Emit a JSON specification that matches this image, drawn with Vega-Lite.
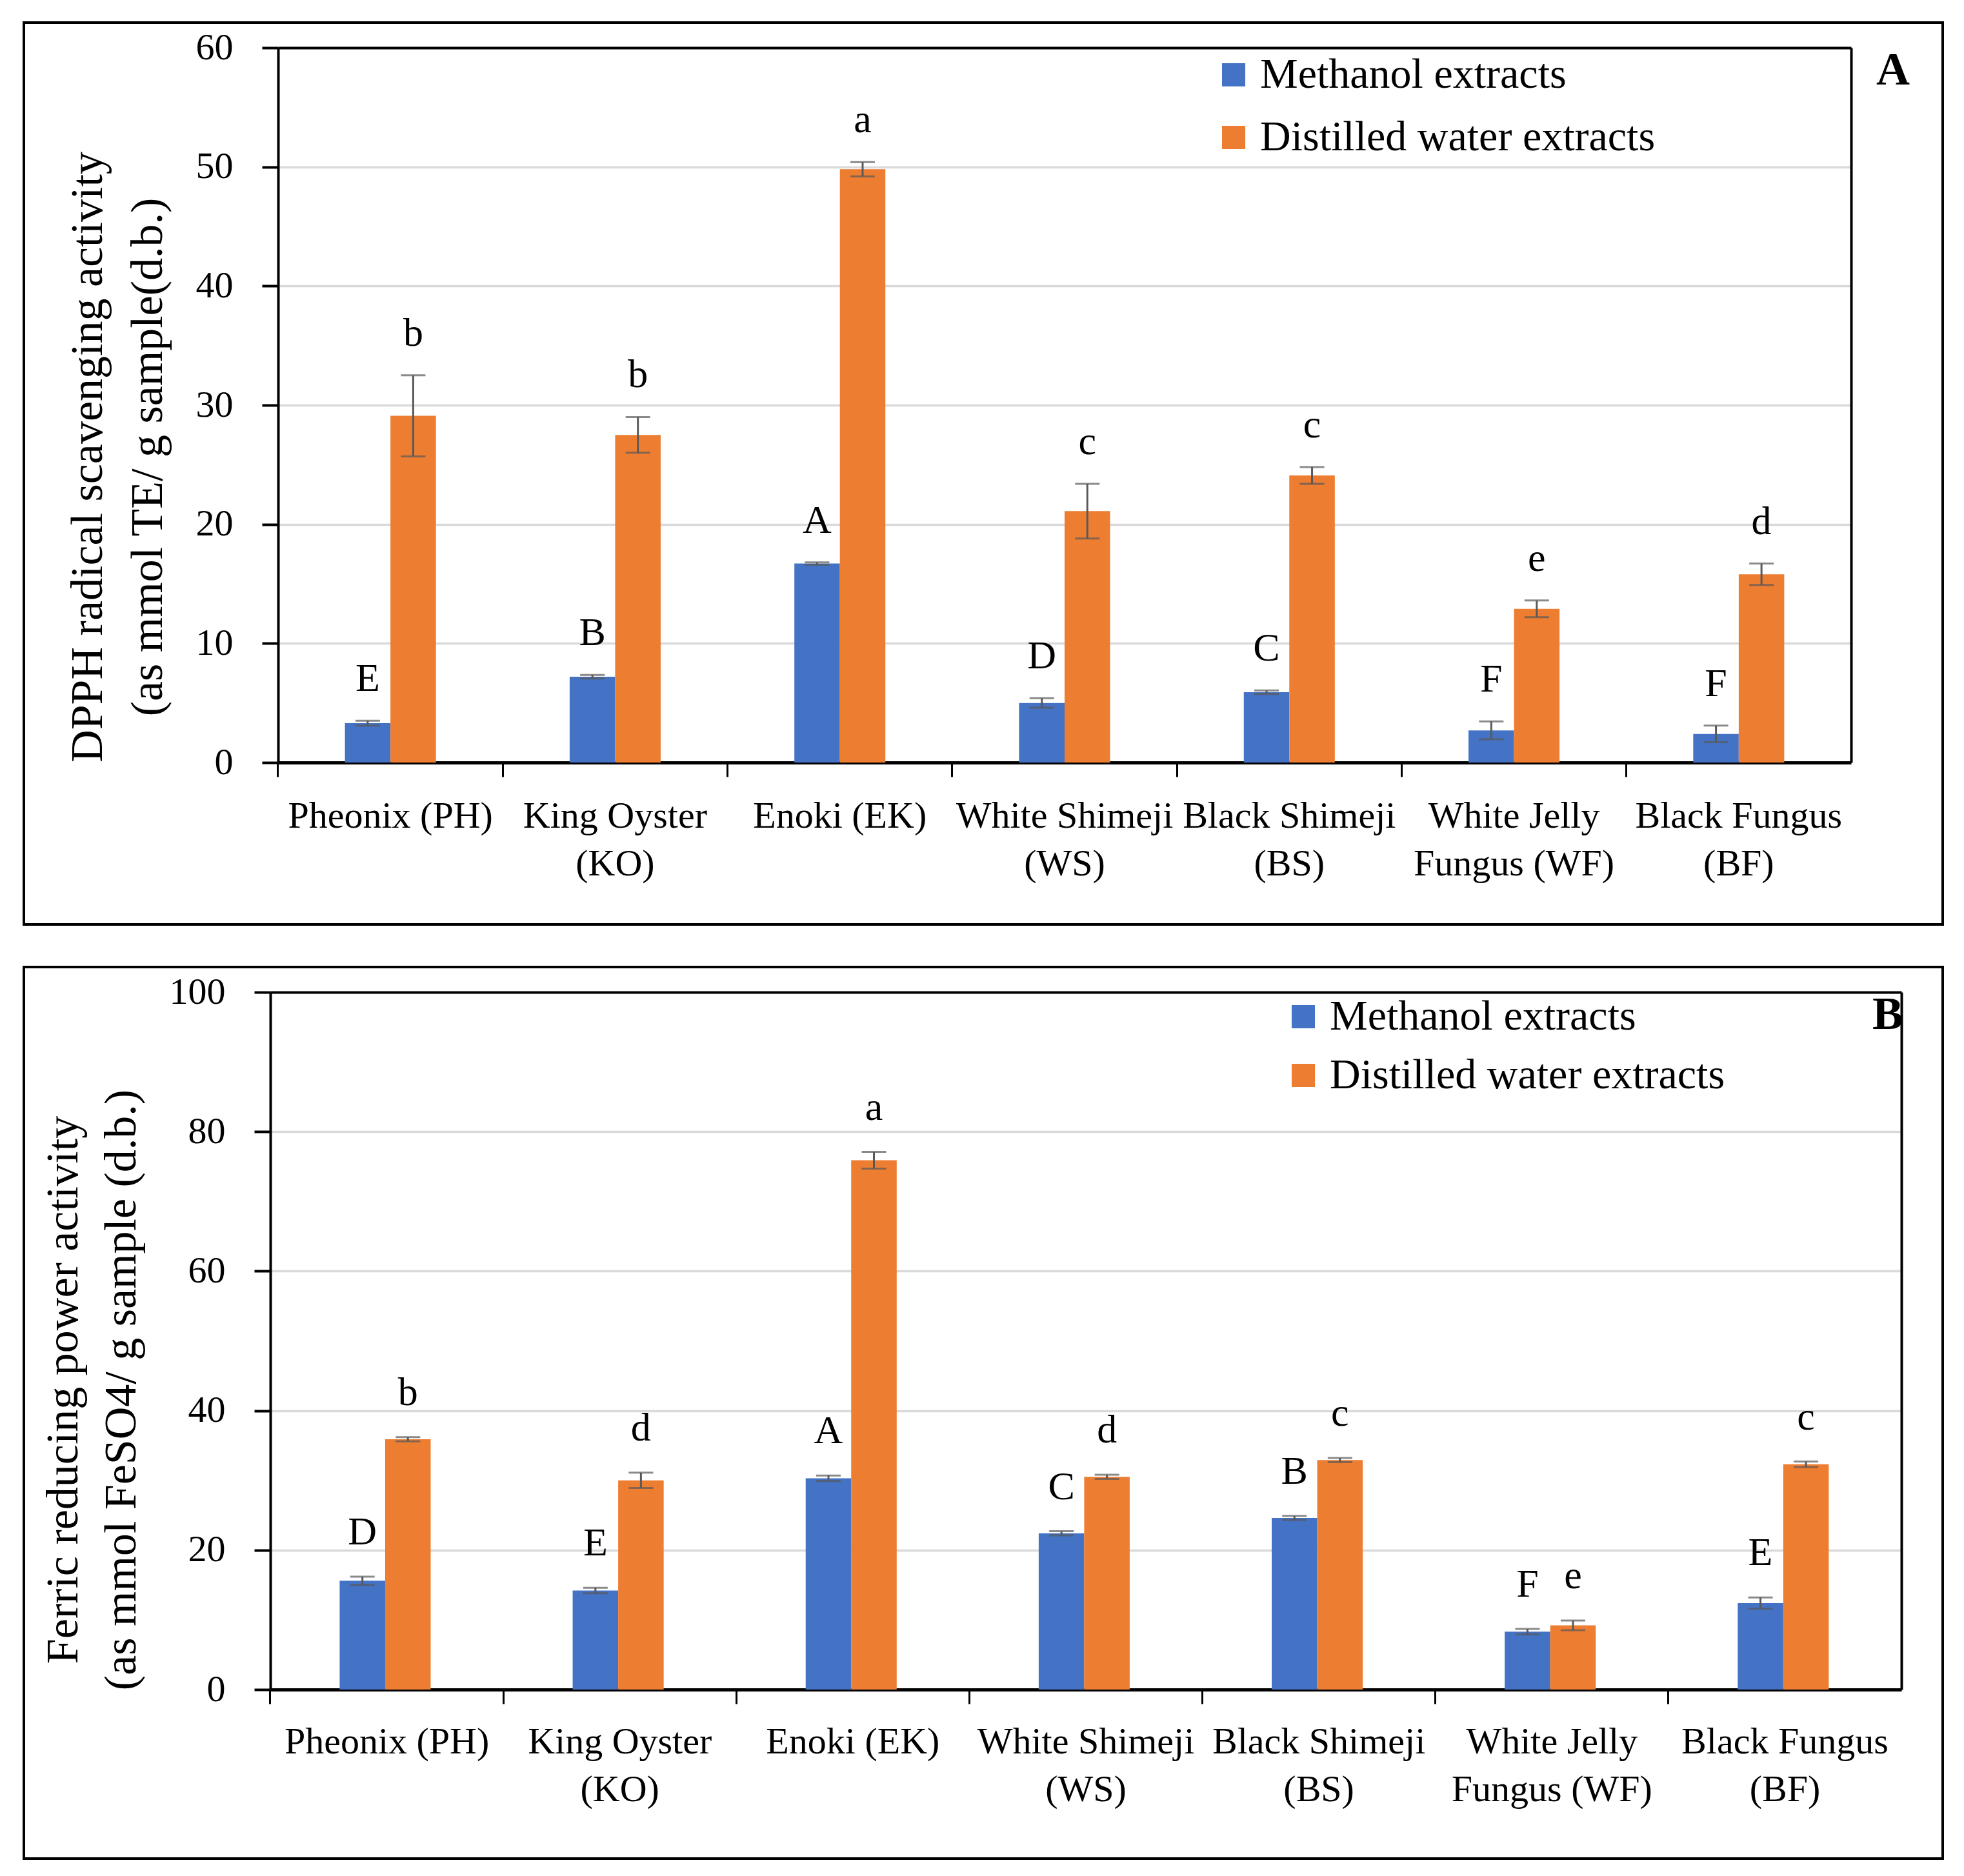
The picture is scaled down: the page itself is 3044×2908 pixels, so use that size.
{
  "$schema": "https://vega.github.io/schema/vega-lite/v6.json",
  "background": "white",
  "padding": {"left": 35, "top": 33, "right": 0, "bottom": 0},
  "autosize": {"type": "pad"},
  "spacing": 62,
  "config": {
    "font": "Liberation Serif",
    "view": {"stroke": "black", "strokeWidth": 4},
    "axis": {"labelFont": "Liberation Serif", "titleFont": "Liberation Serif", "labelColor": "black", "titleColor": "black", "titleFontWeight": "normal", "domainColor": "black", "tickColor": "black"},
    "legend": {"labelFont": "Liberation Serif", "labelColor": "black"},
    "title": {"font": "Liberation Serif", "color": "black"}
  },
  "resolve": {"scale": {"color": "independent", "x": "independent", "y": "independent"}, "legend": {"color": "independent"}},
  "vconcat": [
    {
      "width": 2974,
      "height": 1398,
      "title": {"text": "A", "orient": "top", "anchor": "end", "frame": "group", "offset": -111, "dx": -51, "fontSize": 72, "fontWeight": "bold"},
      "data": {"values": [
        {"cat": "Pheonix (PH)", "series": "Methanol extracts", "value": 3.3, "lo": 3.1, "hi": 3.5, "letter": "E"},
        {"cat": "Pheonix (PH)", "series": "Distilled water extracts", "value": 29.1, "lo": 25.7, "hi": 32.5, "letter": "b"},
        {"cat": "King Oyster (KO)", "series": "Methanol extracts", "value": 7.2, "lo": 7.05, "hi": 7.35, "letter": "B"},
        {"cat": "King Oyster (KO)", "series": "Distilled water extracts", "value": 27.5, "lo": 26.0, "hi": 29.0, "letter": "b"},
        {"cat": "Enoki (EK)", "series": "Methanol extracts", "value": 16.7, "lo": 16.6, "hi": 16.8, "letter": "A"},
        {"cat": "Enoki (EK)", "series": "Distilled water extracts", "value": 49.8, "lo": 49.2, "hi": 50.4, "letter": "a"},
        {"cat": "White Shimeji (WS)", "series": "Methanol extracts", "value": 5.0, "lo": 4.6, "hi": 5.4, "letter": "D"},
        {"cat": "White Shimeji (WS)", "series": "Distilled water extracts", "value": 21.1, "lo": 18.8, "hi": 23.4, "letter": "c"},
        {"cat": "Black Shimeji (BS)", "series": "Methanol extracts", "value": 5.9, "lo": 5.75, "hi": 6.05, "letter": "C"},
        {"cat": "Black Shimeji (BS)", "series": "Distilled water extracts", "value": 24.1, "lo": 23.4, "hi": 24.8, "letter": "c"},
        {"cat": "White Jelly Fungus (WF)", "series": "Methanol extracts", "value": 2.7, "lo": 1.95, "hi": 3.45, "letter": "F"},
        {"cat": "White Jelly Fungus (WF)", "series": "Distilled water extracts", "value": 12.9, "lo": 12.2, "hi": 13.6, "letter": "e"},
        {"cat": "Black Fungus (BF)", "series": "Methanol extracts", "value": 2.4, "lo": 1.7, "hi": 3.1, "letter": "F"},
        {"cat": "Black Fungus (BF)", "series": "Distilled water extracts", "value": 15.8, "lo": 14.9, "hi": 16.7, "letter": "d"}
      ]},
      "encoding": {
        "x": {"field": "cat", "type": "nominal", "sort": ["Pheonix (PH)", "King Oyster (KO)", "Enoki (EK)", "White Shimeji (WS)", "Black Shimeji (BS)", "White Jelly Fungus (WF)", "Black Fungus (BF)"], "scale": {"range": [394, 2832], "paddingInner": 0.595, "paddingOuter": 0.2975}},
        "xOffset": {"field": "series", "type": "nominal", "sort": ["Methanol extracts", "Distilled water extracts"], "scale": {"paddingInner": 0, "paddingOuter": 0}}
      },
      "layer": [
        {
          "mark": {"type": "bar"},
          "encoding": {
            "x": {"field": "cat", "type": "nominal", "sort": ["Pheonix (PH)", "King Oyster (KO)", "Enoki (EK)", "White Shimeji (WS)", "Black Shimeji (BS)", "White Jelly Fungus (WF)", "Black Fungus (BF)"], "axis": {"orient": "bottom", "offset": -251, "title": null, "bandPosition": -0.7346, "domainWidth": 5, "tickWidth": 3, "tickSize": 22, "labelFontSize": 58, "labelPadding": 32, "labelLineHeight": 74, "labelAngle": 0, "labelLimit": 1000, "grid": false, "labelExpr": "datum.label == 'King Oyster (KO)' ? ['King Oyster', '(KO)'] : datum.label == 'White Shimeji (WS)' ? ['White Shimeji', '(WS)'] : datum.label == 'Black Shimeji (BS)' ? ['Black Shimeji', '(BS)'] : datum.label == 'White Jelly Fungus (WF)' ? ['White Jelly', 'Fungus (WF)'] : datum.label == 'Black Fungus (BF)' ? ['Black Fungus', '(BF)'] : datum.label"}},
            "y": {"field": "value", "type": "quantitative", "scale": {"domain": [0, 60], "range": [1147, 39], "nice": false}, "axis": {"orient": "left", "offset": -394, "values": [0, 10, 20, 30, 40, 50, 60], "title": ["DPPH radical scavenging activity", "(as mmol TE/ g sample(d.b.)"], "titleFontSize": 70, "titleLineHeight": 93, "titlePadding": 38, "titleY": 673, "labelFontSize": 58, "labelPadding": 45, "tickSize": 25, "tickWidth": 4, "domainWidth": 4, "grid": true, "gridColor": "#d9d9d9", "gridWidth": 3.5}},
            "color": {"field": "series", "type": "nominal", "scale": {"domain": ["Methanol extracts", "Distilled water extracts"], "range": ["#4472C4", "#ED7D31"]}, "legend": {"orient": "none", "legendX": 1842, "legendY": 48, "title": null, "symbolType": "square", "symbolSize": 1300, "symbolStrokeWidth": 0, "labelFontSize": 66, "labelOffset": 8, "rowPadding": 31, "padding": 0, "labelLimit": 1200}}
          }
        },
        {
          "mark": {"type": "rule", "color": "#595959", "strokeWidth": 3},
          "encoding": {
            "x": {"field": "cat", "type": "nominal", "axis": null},
            "y": {"field": "lo", "type": "quantitative", "axis": null},
            "y2": {"field": "hi"}
          }
        },
        {
          "mark": {"type": "tick", "color": "#595959", "thickness": 3, "size": 38},
          "encoding": {
            "x": {"field": "cat", "type": "nominal", "axis": null},
            "y": {"field": "lo", "type": "quantitative", "axis": null}
          }
        },
        {
          "mark": {"type": "tick", "color": "#595959", "thickness": 3, "size": 38},
          "encoding": {
            "x": {"field": "cat", "type": "nominal", "axis": null},
            "y": {"field": "hi", "type": "quantitative", "axis": null}
          }
        },
        {
          "mark": {"type": "text", "fontSize": 62, "baseline": "alphabetic", "dy": -46, "color": "black"},
          "encoding": {
            "x": {"field": "cat", "type": "nominal", "axis": {"orient": "top", "offset": -39, "title": null, "labels": false, "ticks": false, "grid": false, "domainWidth": 4}},
            "y": {"field": "hi", "type": "quantitative", "axis": {"orient": "right", "offset": -142, "title": null, "labels": false, "ticks": false, "grid": false, "domainWidth": 4}},
            "text": {"field": "letter"}
          }
        }
      ],
      "resolve": {"axis": {"x": "independent", "y": "independent"}}
    },
    {
      "width": 2974,
      "height": 1382,
      "title": {"text": "B", "orient": "top", "anchor": "end", "frame": "group", "offset": -111, "dx": -61, "fontSize": 72, "fontWeight": "bold"},
      "data": {"values": [
        {"cat": "Pheonix (PH)", "series": "Methanol extracts", "value": 15.6, "lo": 15.0, "hi": 16.2, "letter": "D"},
        {"cat": "Pheonix (PH)", "series": "Distilled water extracts", "value": 35.9, "lo": 35.6, "hi": 36.2, "letter": "b"},
        {"cat": "King Oyster (KO)", "series": "Methanol extracts", "value": 14.2, "lo": 13.8, "hi": 14.6, "letter": "E"},
        {"cat": "King Oyster (KO)", "series": "Distilled water extracts", "value": 30.0, "lo": 28.9, "hi": 31.1, "letter": "d"},
        {"cat": "Enoki (EK)", "series": "Methanol extracts", "value": 30.3, "lo": 29.9, "hi": 30.7, "letter": "A"},
        {"cat": "Enoki (EK)", "series": "Distilled water extracts", "value": 75.9, "lo": 74.7, "hi": 77.1, "letter": "a"},
        {"cat": "White Shimeji (WS)", "series": "Methanol extracts", "value": 22.4, "lo": 22.1, "hi": 22.7, "letter": "C"},
        {"cat": "White Shimeji (WS)", "series": "Distilled water extracts", "value": 30.5, "lo": 30.2, "hi": 30.8, "letter": "d"},
        {"cat": "Black Shimeji (BS)", "series": "Methanol extracts", "value": 24.6, "lo": 24.3, "hi": 24.9, "letter": "B"},
        {"cat": "Black Shimeji (BS)", "series": "Distilled water extracts", "value": 32.9, "lo": 32.6, "hi": 33.2, "letter": "c"},
        {"cat": "White Jelly Fungus (WF)", "series": "Methanol extracts", "value": 8.3, "lo": 7.9, "hi": 8.7, "letter": "F"},
        {"cat": "White Jelly Fungus (WF)", "series": "Distilled water extracts", "value": 9.2, "lo": 8.5, "hi": 9.9, "letter": "e"},
        {"cat": "Black Fungus (BF)", "series": "Methanol extracts", "value": 12.4, "lo": 11.6, "hi": 13.2, "letter": "E"},
        {"cat": "Black Fungus (BF)", "series": "Distilled water extracts", "value": 32.3, "lo": 31.9, "hi": 32.7, "letter": "c"}
      ]},
      "encoding": {
        "x": {"field": "cat", "type": "nominal", "sort": ["Pheonix (PH)", "King Oyster (KO)", "Enoki (EK)", "White Shimeji (WS)", "Black Shimeji (BS)", "White Jelly Fungus (WF)", "Black Fungus (BF)"], "scale": {"range": [382, 2910], "paddingInner": 0.595, "paddingOuter": 0.2975}},
        "xOffset": {"field": "series", "type": "nominal", "sort": ["Methanol extracts", "Distilled water extracts"], "scale": {"paddingInner": 0, "paddingOuter": 0}}
      },
      "layer": [
        {
          "mark": {"type": "bar"},
          "encoding": {
            "x": {"field": "cat", "type": "nominal", "sort": ["Pheonix (PH)", "King Oyster (KO)", "Enoki (EK)", "White Shimeji (WS)", "Black Shimeji (BS)", "White Jelly Fungus (WF)", "Black Fungus (BF)"], "axis": {"orient": "bottom", "offset": -262, "title": null, "bandPosition": -0.7346, "domainWidth": 5, "tickWidth": 3, "tickSize": 22, "labelFontSize": 58, "labelPadding": 30, "labelLineHeight": 74, "labelAngle": 0, "labelLimit": 1000, "grid": false, "labelExpr": "datum.label == 'King Oyster (KO)' ? ['King Oyster', '(KO)'] : datum.label == 'White Shimeji (WS)' ? ['White Shimeji', '(WS)'] : datum.label == 'Black Shimeji (BS)' ? ['Black Shimeji', '(BS)'] : datum.label == 'White Jelly Fungus (WF)' ? ['White Jelly', 'Fungus (WF)'] : datum.label == 'Black Fungus (BF)' ? ['Black Fungus', '(BF)'] : datum.label"}},
            "y": {"field": "value", "type": "quantitative", "scale": {"domain": [0, 100], "range": [1120, 39], "nice": false}, "axis": {"orient": "left", "offset": -382, "values": [0, 20, 40, 60, 80, 100], "title": ["Ferric reducing power activity", "(as mmol FeSO4/ g sample (d.b.)"], "titleFontSize": 70, "titleLineHeight": 90, "titlePadding": 38, "titleY": 655, "labelFontSize": 58, "labelPadding": 45, "tickSize": 25, "tickWidth": 4, "domainWidth": 4, "grid": true, "gridColor": "#d9d9d9", "gridWidth": 3.5}},
            "color": {"field": "series", "type": "nominal", "scale": {"domain": ["Methanol extracts", "Distilled water extracts"], "range": ["#4472C4", "#ED7D31"]}, "legend": {"orient": "none", "legendX": 1950, "legendY": 44, "title": null, "symbolType": "square", "symbolSize": 1300, "symbolStrokeWidth": 0, "labelFontSize": 66, "labelOffset": 8, "rowPadding": 25, "padding": 0, "labelLimit": 1200}}
          }
        },
        {
          "mark": {"type": "rule", "color": "#595959", "strokeWidth": 3},
          "encoding": {
            "x": {"field": "cat", "type": "nominal", "axis": null},
            "y": {"field": "lo", "type": "quantitative", "axis": null},
            "y2": {"field": "hi"}
          }
        },
        {
          "mark": {"type": "tick", "color": "#595959", "thickness": 3, "size": 38},
          "encoding": {
            "x": {"field": "cat", "type": "nominal", "axis": null},
            "y": {"field": "lo", "type": "quantitative", "axis": null}
          }
        },
        {
          "mark": {"type": "tick", "color": "#595959", "thickness": 3, "size": 38},
          "encoding": {
            "x": {"field": "cat", "type": "nominal", "axis": null},
            "y": {"field": "hi", "type": "quantitative", "axis": null}
          }
        },
        {
          "mark": {"type": "text", "fontSize": 62, "baseline": "alphabetic", "dy": -50, "color": "black"},
          "encoding": {
            "x": {"field": "cat", "type": "nominal", "axis": {"orient": "top", "offset": -39, "title": null, "labels": false, "ticks": false, "grid": false, "domainWidth": 4}},
            "y": {"field": "hi", "type": "quantitative", "axis": {"orient": "right", "offset": -64, "title": null, "labels": false, "ticks": false, "grid": false, "domainWidth": 4}},
            "text": {"field": "letter"}
          }
        }
      ],
      "resolve": {"axis": {"x": "independent", "y": "independent"}}
    }
  ]
}
